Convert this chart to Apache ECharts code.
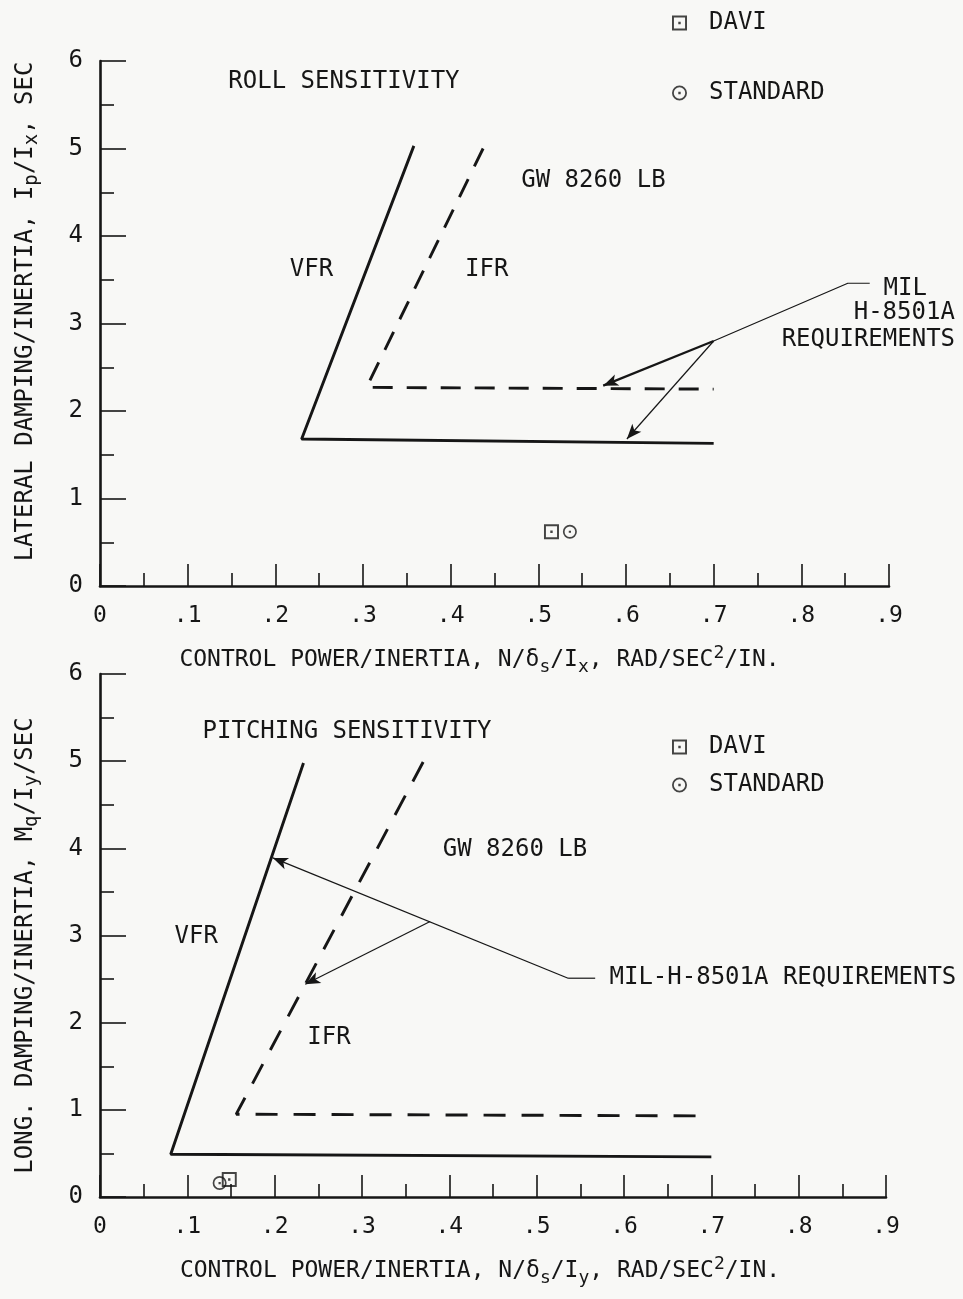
<!DOCTYPE html>
<html>
<head>
<meta charset="utf-8">
<script src="https://cdn.jsdelivr.net/npm/echarts@6/dist/echarts.min.js"></script>
<style>
  html, body { margin: 0; padding: 0; background: #f8f8f6; }
  #chart { width: 963px; height: 1299px; }
</style>
</head>
<body>
<div id="chart"></div>
<script>
// ---------- DATA ----------
const xTickLabels = ['0', '.1', '.2', '.3', '.4', '.5', '.6', '.7', '.8', '.9'];
const yTickLabels = ['0', '1', '2', '3', '4', '5', '6'];
const legendNames = ['DAVI', 'STANDARD'];

// Roll sensitivity (top)
const rollVFR = [[0.358, 5.03], [0.230, 1.68], [0.700, 1.63]];
const rollIFR = [[0.437, 5.00], [0.304, 2.27], [0.700, 2.25]];
const rollDAVI = [[0.515, 0.62]];
const rollSTD = [[0.536, 0.62]];
const rollLeader = [[0.878, 3.46], [0.853, 3.46], [0.700, 2.80]];
const rollArrows = [[[0.700, 2.80], [0.574, 2.29]], [[0.700, 2.80], [0.601, 1.68]]];
const rollNoteText = ['ROLL SENSITIVITY', 'GW 8260 LB', 'VFR', 'IFR', 'MIL', 'H-8501A', 'REQUIREMENTS'];
const rollNoteAt = [[0.147, 5.76], [0.481, 4.62], [0.217, 3.61], [0.417, 3.61], [0.919, 3.39], [0.918, 3.12], [0.877, 2.81]];
const rollNoteAlign = ['left', 'left', 'left', 'left', 'center', 'center', 'center'];

// Pitching sensitivity (bottom)
const pitchVFR = [[0.233, 4.98], [0.081, 0.49], [0.700, 0.46]];
const pitchIFR = [[0.370, 4.99], [0.156, 0.95], [0.700, 0.93]];
const pitchDAVI = [[0.148, 0.20]];
const pitchSTD = [[0.137, 0.16]];
const pitchLeader = [[0.567, 2.51], [0.536, 2.51]];
const pitchArrows = [[[0.536, 2.51], [0.198, 3.89]], [[0.378, 3.16], [0.235, 2.44]]];
const pitchNoteText = ['PITCHING SENSITIVITY', 'GW 8260 LB', 'VFR', 'IFR', 'MIL-H-8501A REQUIREMENTS'];
const pitchNoteAt = [[0.118, 5.33], [0.393, 3.98], [0.086, 2.98], [0.238, 1.82], [0.584, 2.51]];
const pitchNoteAlign = ['left', 'left', 'left', 'left', 'left'];

// Axis titles (rich text: s = subscript, p = superscript)
const rollXTitle = '{n|CONTROL POWER/INERTIA, N/δ}{s|s}{n|/I}{s|x}{n|, RAD/SEC}{p|2}{n|/IN.}';
const rollYTitle = '{n|LATERAL DAMPING/INERTIA, I}{s|p}{n|/I}{s|x}{n|, SEC}';
const pitchXTitle = '{n|CONTROL POWER/INERTIA, N/δ}{s|s}{n|/I}{s|y}{n|, RAD/SEC}{p|2}{n|/IN.}';
const pitchYTitle = '{n|LONG. DAMPING/INERTIA, M}{s|q}{n|/I}{s|y}{n|/SEC}';

// ---------- STYLE ----------
const INK = '#161616';
const FONT = "'DejaVu Sans Mono', 'Liberation Mono', monospace";
const SQUARE = 'path://M0,0H10V10H0Z M1.3,1.3V8.7H8.7V1.3Z M4.2,4.2H5.8V5.8H4.2Z';
const CIRCLE = 'path://M5,0A5,5 0 1,1 5,10A5,5 0 1,1 5,0Z M5,1.2A3.8,3.8 0 1,0 5,8.8A3.8,3.8 0 1,0 5,1.2Z M4.2,4.2H5.8V5.8H4.2Z';

function richTitle(size) {
  return {
    n: { fontFamily: FONT, fontSize: size, color: INK, lineHeight: 32, verticalAlign: 'middle' },
    s: { fontFamily: FONT, fontSize: Math.round(size * 0.8), color: INK, lineHeight: 14, verticalAlign: 'bottom' },
    p: { fontFamily: FONT, fontSize: Math.round(size * 0.8), color: INK, lineHeight: 14, verticalAlign: 'top' }
  };
}

function xAxis(gridIndex, title, pad) {
  return {
    type: 'value', gridIndex, min: 0, max: 0.9, interval: 0.1,
    name: title, nameLocation: 'middle', nameGap: 58,
    nameTextStyle: { rich: richTitle(23), padding: pad },
    axisLine: { show: true, onZero: false, lineStyle: { color: INK, width: 2.6 } },
    axisTick: { show: true, inside: true, length: 22, lineStyle: { color: INK, width: 1.6 } },
    minorTick: { show: true, splitNumber: 2, length: 13, lineStyle: { color: INK, width: 1.6 } },
    axisLabel: {
      color: INK, fontFamily: FONT, fontSize: 23, margin: 19,
      formatter: v => xTickLabels[Math.round(v * 10)]
    },
    splitLine: { show: false }
  };
}

function yAxis(gridIndex, title, pad) {
  return {
    type: 'value', gridIndex, min: 0, max: 6, interval: 1,
    name: title, nameLocation: 'middle', nameGap: 58,
    nameTextStyle: { rich: richTitle(24), padding: pad },
    axisLine: { show: true, onZero: false, lineStyle: { color: INK, width: 2.6 } },
    axisTick: { show: true, inside: true, length: 26, lineStyle: { color: INK, width: 1.6 } },
    minorTick: { show: true, splitNumber: 2, length: 14, lineStyle: { color: INK, width: 1.6 } },
    axisLabel: {
      color: INK, fontFamily: FONT, fontSize: 24, margin: 17,
      formatter: v => yTickLabels[Math.round(v)]
    },
    splitLine: { show: false }
  };
}

function curve(name, idx, data, dash, width) {
  return {
    name, type: 'line', xAxisIndex: idx, yAxisIndex: idx, data,
    showSymbol: false, symbol: 'none', silent: true, clip: false,
    lineStyle: { color: INK, width, type: dash }
  };
}

function marker(name, idx, data, symbol, size) {
  return {
    name, type: 'scatter', xAxisIndex: idx, yAxisIndex: idx, data,
    symbol, symbolSize: size, silent: true, clip: false,
    itemStyle: { color: INK }
  };
}

function leader(idx, data, arrows, widths) {
  return {
    name: 'leader' + idx, type: 'line', xAxisIndex: idx, yAxisIndex: idx, data,
    showSymbol: false, symbol: 'none', silent: true, clip: false,
    lineStyle: { color: INK, width: 1.2 },
    markLine: {
      silent: true, animation: false,
      symbol: ['none', 'arrow'], symbolSize: [9, 15],
      label: { show: false },
      data: arrows.map((a, i) => [
        { coord: a[0], lineStyle: { color: INK, width: widths[i], type: 'solid' } },
        { coord: a[1] }
      ])
    }
  };
}

function notes(idx, texts, at, aligns) {
  return {
    name: 'notes' + idx, type: 'scatter', xAxisIndex: idx, yAxisIndex: idx,
    symbolSize: 1, silent: true, clip: false,
    itemStyle: { color: 'transparent' },
    data: texts.map((t, i) => ({
      name: t, value: at[i],
      label: { align: aligns[i] }
    })),
    label: {
      show: true, position: [0, 0], verticalAlign: 'middle',
      color: INK, fontFamily: FONT, fontSize: 24,
      textBorderWidth: 0, textBorderColor: 'transparent', opacity: 1,
      formatter: p => p.name
    },
    labelLayout: { hideOverlap: false }
  };
}

function legend(top, gap) {
  return {
    data: legendNames, orient: 'vertical', left: 672, top, itemGap: gap,
    itemWidth: 15, itemHeight: 15, padding: 0, selectedMode: false,
    textStyle: { color: INK, fontFamily: FONT, fontSize: 24, lineHeight: 26, padding: [0, 0, 0, 17] }
  };
}

const option = {
  backgroundColor: '#f8f8f6',
  animation: false,
  legend: [legend(10, 44), legend(734, 12)],
  grid: [
    { left: 100, top: 61, width: 789, height: 525 },
    { left: 100, top: 674, width: 786, height: 523 }
  ],
  xAxis: [xAxis(0, rollXTitle, [0, 30, 0, 0]), xAxis(1, pitchXTitle, [0, 26, 0, 0])],
  yAxis: [yAxis(0, rollYTitle, [0, 0, 0, 24]), yAxis(1, pitchYTitle, [0, 20, 0, 0])],
  series: [
    curve('VFR roll', 0, rollVFR, 'solid', 2.9),
    curve('IFR roll', 0, rollIFR, [20, 14], 2.9),
    leader(0, rollLeader, rollArrows, [2.2, 1.2]),
    marker('DAVI', 0, rollDAVI, SQUARE, 15),
    marker('STANDARD', 0, rollSTD, CIRCLE, 14),
    notes(0, rollNoteText, rollNoteAt, rollNoteAlign),

    curve('VFR pitch', 1, pitchVFR, 'solid', 2.9),
    curve('IFR pitch', 1, pitchIFR, [22, 16], 2.9),
    leader(1, pitchLeader, pitchArrows, [1.2, 1.2]),
    marker('DAVI', 1, pitchDAVI, SQUARE, 15),
    marker('STANDARD', 1, pitchSTD, CIRCLE, 14),
    notes(1, pitchNoteText, pitchNoteAt, pitchNoteAlign)
  ]
};

const chart = echarts.init(document.getElementById('chart'), null, { renderer: 'canvas' });
chart.setOption(option);
</script>
</body>
</html>
